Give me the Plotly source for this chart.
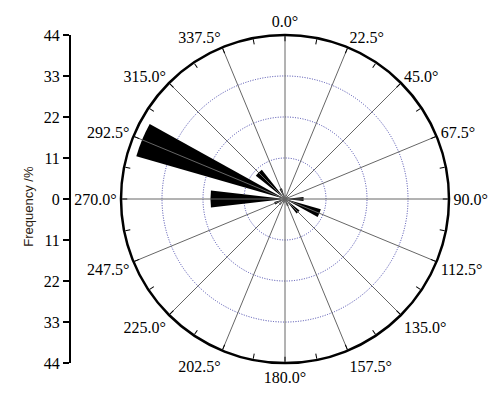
import plotly.graph_objects as go

directions = [0.0, 22.5, 45.0, 67.5, 90.0, 112.5, 135.0, 157.5,
              180.0, 202.5, 225.0, 247.5, 270.0, 292.5, 315.0, 337.5]
frequency = [1, 0, 0, 1, 5, 10, 5, 2, 1, 1, 2, 3, 20, 41.5, 10, 3]
axis_ticks = [-44, -33, -22, -11, 0, 11, 22, 33, 44]
axis_labels = ['44', '33', '22', '11', '0', '11', '22', '33', '44']

serif = 'Liberation Serif'

# page body adds an 8px offset, so the figure is a bit smaller and
# all pixel positions below are screen positions minus 8
FW, FH, OFF = 492, 394, 8
L, R, T, B = 2, 32, 22, 22
W, H = FW - L - R, FH - T - B


def px_x(a, b):
    return [(a - OFF - L) / W, (b - OFF - L) / W]


def px_y(top, bottom):
    return [(FH - B - (bottom - OFF)) / H, (FH - B - (top - OFF)) / H]


dom_y = px_y(35, 363)

fig = go.Figure()

# spokes every 22.5 deg
for d in directions:
    fig.add_trace(go.Scatterpolar(r=[0, 44], theta=[d, d], mode='lines',
                                  line=dict(color='#666666', width=1),
                                  hoverinfo='skip', showlegend=False))

fig.add_trace(go.Barpolar(r=frequency, theta=directions, width=13,
                          marker=dict(color='black', line=dict(width=0)),
                          showlegend=False))

# ticks at every 11.25 deg, labels only on the main directions
tick_angles = [i * 11.25 for i in range(32)]
tick_text = ['%.1f°' % a if i % 2 == 0 else '' for i, a in enumerate(tick_angles)]

fig.update_layout(
    width=FW, height=FH,
    margin=dict(l=L, r=R, t=T, b=B, autoexpand=False),
    paper_bgcolor='white', plot_bgcolor='white',
    polar=dict(
        domain=dict(x=px_x(121, 449), y=dom_y),
        bgcolor='white',
        angularaxis=dict(rotation=90, direction='clockwise',
                         tickvals=tick_angles, ticktext=tick_text,
                         ticks='inside', ticklen=5, tickcolor='black',
                         showgrid=False, showline=True,
                         linecolor='black', linewidth=2.5,
                         tickfont=dict(family=serif, size=16, color='black')),
        radialaxis=dict(range=[0, 44], tickvals=[11, 22, 33],
                        showticklabels=False, ticks='', showline=False,
                        gridcolor='#4444aa', griddash='1px,1.5px', gridwidth=1),
    ),
    xaxis=dict(domain=px_x(70, 90), visible=False, range=[0, 1]),
    yaxis=dict(domain=dom_y, range=[-44, 44], anchor='free',
               position=(70 - OFF - L) / W,
               tickvals=axis_ticks, ticktext=axis_labels,
               ticks='outside', ticklen=6, tickcolor='black', tickwidth=1.5,
               showline=True, linecolor='black', linewidth=2,
               showgrid=False, zeroline=False,
               tickfont=dict(family=serif, size=16, color='black')),
)

# invisible trace to show the left axis
fig.add_trace(go.Scatter(x=[0], y=[0], mode='markers', marker=dict(opacity=0),
                         hoverinfo='skip', showlegend=False))

fig.add_annotation(text='Frequency /%', x=(18 - OFF) / FW, y=(FH - (206 - OFF)) / FH,
                   xref='paper', yref='paper', textangle=-90, showarrow=False,
                   font=dict(family='Liberation Sans', size=13, color='#2a2010'))

fig.write_html("out.html")
